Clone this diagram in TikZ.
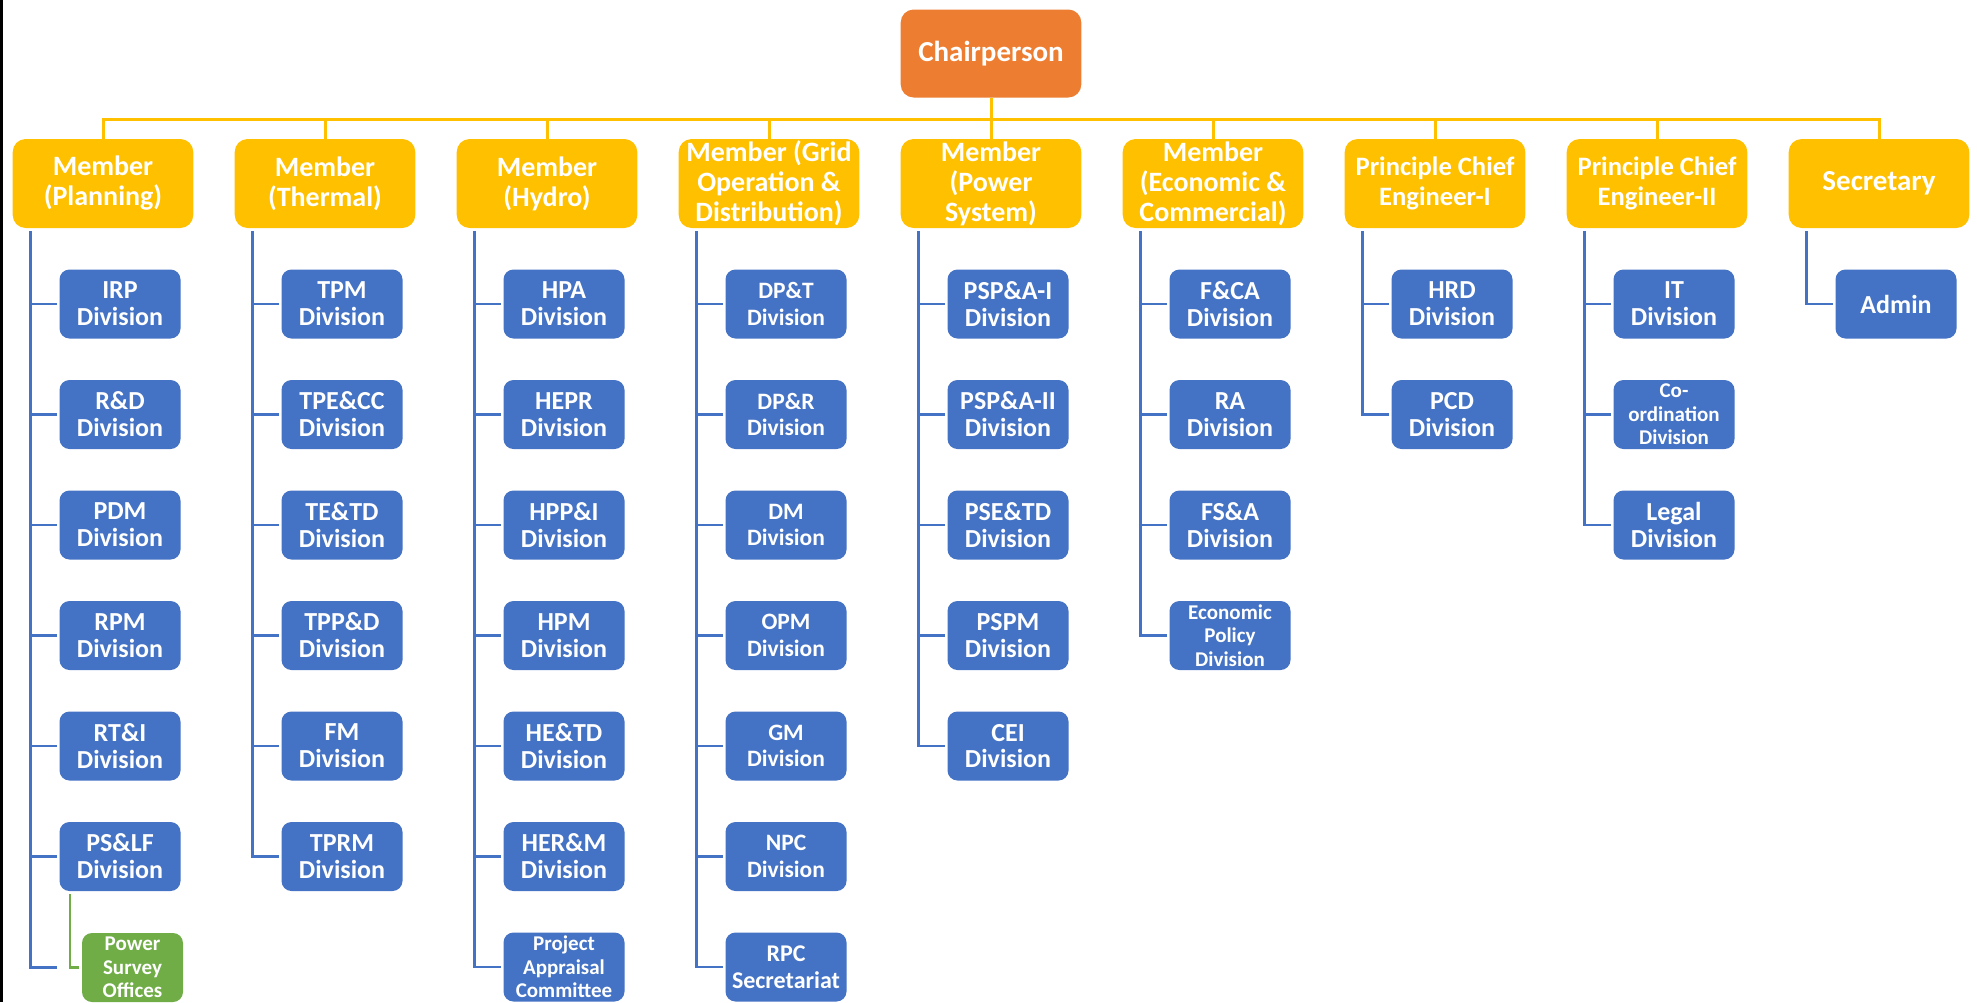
\documentclass[tikz,border=0pt]{standalone}
\usepackage{fontspec}
\setmainfont{Carlito}
\definecolor{corange}{HTML}{ED7D31}
\definecolor{cgold}{HTML}{FFC000}
\definecolor{cblue}{HTML}{4472C4}
\definecolor{cgreen}{HTML}{70AD47}
\begin{document}
\begin{tikzpicture}[x=0.5pt,y=-0.5pt,
 chairbox/.style={fill=corange, rounded corners=6.5pt, minimum width=90.3pt, minimum height=44pt, inner sep=0pt, text=white, font=\bfseries\fontsize{14.5}{15}\selectfont, align=center},
 memberbox/.style={fill=cgold, rounded corners=6.5pt, minimum width=90.3pt, minimum height=44.5pt, inner sep=0pt, text=white, font=\bfseries\fontsize{14}{15}\selectfont, align=center},
 pcefont/.style={font=\bfseries\fontsize{13.3}{15}\selectfont},
 secfont/.style={font=\bfseries\fontsize{14.5}{15}\selectfont},
 divbox/.style={fill=cblue, rounded corners=5pt, minimum width=60.5pt, minimum height=34.5pt, inner sep=0pt, text=white, font=\bfseries\fontsize{13}{13.4}\selectfont, align=center},
 gridfont/.style={font=\bfseries\fontsize{11.75}{13.3}\selectfont},
 smallfont/.style={font=\bfseries\fontsize{10.5}{11.7}\selectfont},
 greenbox/.style={divbox, fill=cgreen, minimum width=50.5pt},
 goldline/.style={draw=cgold, line width=1.5pt},
 blueline/.style={draw=cblue, line width=1.2pt},
 greenline/.style={draw=cgreen, line width=1.2pt},
]
\useasboundingbox (0,0) rectangle (1977,1002);
\fill[black] (0,0) rectangle (3,1002);

% top
\node[chairbox] (chair) at (991,53.5) {Chairperson};
\node[memberbox] (m1) at (103,183.5) {Member\\(Planning)};
\node[memberbox] (m2) at (325,183.5) {Member\\(Thermal)};
\node[memberbox] (m3) at (547,183.5) {Member\\(Hydro)};
\node[memberbox] (m4) at (769,183.5) {Member (Grid\\Operation \&\\Distribution)};
\node[memberbox] (m5) at (991,183.5) {Member\\(Power\\System)};
\node[memberbox] (m6) at (1213,183.5) {Member\\(Economic \&\\Commercial)};
\node[memberbox, pcefont] (m7) at (1435,183.5) {Principle Chief\\Engineer-I};
\node[memberbox, pcefont] (m8) at (1657,183.5) {Principle Chief\\Engineer-II};
\node[memberbox, secfont] (m9) at (1879,183.5) {Secretary};

\coordinate (bus) at (991,119.5);
\draw[goldline] (m1.north) -- (m1.north |- bus) -- (m9.north |- bus) -- (m9.north);
\draw[goldline] (chair.south) -- (m5.north);
\foreach \m in {m2,m3,m4,m6,m7,m8}{\draw[goldline] (\m.north |- bus) -- (\m.north);}

% column 1
\node[divbox] (d11) at (120,304) {IRP\\Division};
\node[divbox] (d12) at (120,414.5) {R\&D\\Division};
\node[divbox] (d13) at (120,525) {PDM\\Division};
\node[divbox] (d14) at (120,635.5) {RPM\\Division};
\node[divbox] (d15) at (120,746) {RT\&I\\Division};
\node[divbox] (d16) at (120,856.5) {PS\&LF\\Division};
\node[greenbox, smallfont] (g1) at (132.5,967.5) {Power\\Survey\\Offices};

% column 2
\node[divbox] (d21) at (342,304) {TPM\\Division};
\node[divbox] (d22) at (342,414.5) {TPE\&CC\\Division};
\node[divbox] (d23) at (342,525) {TE\&TD\\Division};
\node[divbox] (d24) at (342,635.5) {TPP\&D\\Division};
\node[divbox] (d25) at (342,746) {FM\\Division};
\node[divbox] (d26) at (342,856.5) {TPRM\\Division};

% column 3
\node[divbox] (d31) at (564,304) {HPA\\Division};
\node[divbox] (d32) at (564,414.5) {HEPR\\Division};
\node[divbox] (d33) at (564,525) {HPP\&I\\Division};
\node[divbox] (d34) at (564,635.5) {HPM\\Division};
\node[divbox] (d35) at (564,746) {HE\&TD\\Division};
\node[divbox] (d36) at (564,856.5) {HER\&M\\Division};
\node[divbox, smallfont] (d37) at (564,967) {Project\\Appraisal\\Committee};

% column 4
\node[divbox, gridfont] (d41) at (786,304) {DP\&T\\Division};
\node[divbox, gridfont] (d42) at (786,414.5) {DP\&R\\Division};
\node[divbox, gridfont] (d43) at (786,525) {DM\\Division};
\node[divbox, gridfont] (d44) at (786,635.5) {OPM\\Division};
\node[divbox, gridfont] (d45) at (786,746) {GM\\Division};
\node[divbox, gridfont] (d46) at (786,856.5) {NPC\\Division};
\node[divbox, font=\bfseries\fontsize{12}{13.5}\selectfont] (d47) at (786,967) {RPC\\Secretariat};

% column 5
\node[divbox] (d51) at (1008,304) {PSP\&A-I\\Division};
\node[divbox] (d52) at (1008,414.5) {PSP\&A-II\\Division};
\node[divbox] (d53) at (1008,525) {PSE\&TD\\Division};
\node[divbox] (d54) at (1008,635.5) {PSPM\\Division};
\node[divbox] (d55) at (1008,746) {CEI\\Division};

% column 6
\node[divbox] (d61) at (1230,304) {F\&CA\\Division};
\node[divbox] (d62) at (1230,414.5) {RA\\Division};
\node[divbox] (d63) at (1230,525) {FS\&A\\Division};
\node[divbox, smallfont] (d64) at (1230,635.5) {Economic\\Policy\\Division};

% column 7
\node[divbox] (d71) at (1452,304) {HRD\\Division};
\node[divbox] (d72) at (1452,414.5) {PCD\\Division};

% column 8
\node[divbox] (d81) at (1674,304) {IT\\Division};
\node[divbox, smallfont] (d82) at (1674,414.5) {Co-\\ordination\\Division};
\node[divbox] (d83) at (1674,525) {Legal\\Division};

% column 9
\node[divbox] (d91) at (1896,304) {Admin};

% trunks
\foreach \i in {1,...,9}{\coordinate (k\i) at ([xshift=9pt,yshift=-1.5pt]m\i.south west);}

\draw[blueline] (k1) -- (k1 |- g1.west) -- ([xshift=-1pt]d16.west |- g1.west);
\foreach \d in {d11,d12,d13,d14,d15,d16}{\draw[blueline] (k1 |- \d.west) -- ([xshift=-1pt]\d.west);}
\draw[greenline] ([xshift=5.5pt,yshift=-1.5pt]d16.south west) |- ([xshift=-1.5pt]g1.west);

\draw[blueline] (k2) |- ([xshift=-1pt]d26.west);
\foreach \d in {d21,d22,d23,d24,d25}{\draw[blueline] (k2 |- \d.west) -- ([xshift=-1pt]\d.west);}

\draw[blueline] (k3) |- ([xshift=-1pt]d37.west);
\foreach \d in {d31,d32,d33,d34,d35,d36}{\draw[blueline] (k3 |- \d.west) -- ([xshift=-1pt]\d.west);}

\draw[blueline] (k4) |- ([xshift=-1pt]d47.west);
\foreach \d in {d41,d42,d43,d44,d45,d46}{\draw[blueline] (k4 |- \d.west) -- ([xshift=-1pt]\d.west);}

\draw[blueline] (k5) |- ([xshift=-1pt]d55.west);
\foreach \d in {d51,d52,d53,d54}{\draw[blueline] (k5 |- \d.west) -- ([xshift=-1pt]\d.west);}

\draw[blueline] (k6) |- ([xshift=-1pt]d64.west);
\foreach \d in {d61,d62,d63}{\draw[blueline] (k6 |- \d.west) -- ([xshift=-1pt]\d.west);}

\draw[blueline] (k7) |- ([xshift=-1pt]d72.west);
\draw[blueline] (k7 |- d71.west) -- ([xshift=-1pt]d71.west);

\draw[blueline] (k8) |- ([xshift=-1pt]d83.west);
\foreach \d in {d81,d82}{\draw[blueline] (k8 |- \d.west) -- ([xshift=-1pt]\d.west);}

\draw[blueline] (k9) |- ([xshift=-1pt]d91.west);
\end{tikzpicture}
\end{document}
